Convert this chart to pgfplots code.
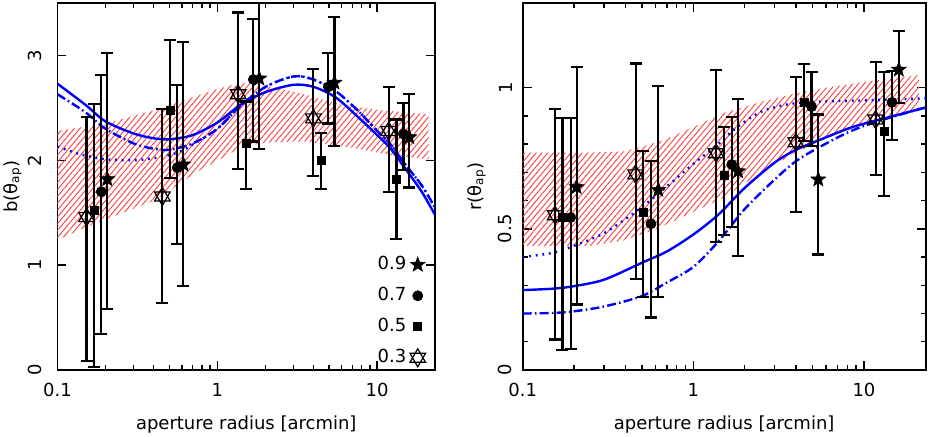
\documentclass[border=0pt]{standalone}
\usepackage{fontspec}
\setmainfont{DejaVu Sans}
\usepackage{pgfplots}
\pgfplotsset{compat=1.18}
\usetikzlibrary{patterns.meta,plotmarks}

\pgfdeclareplotmark{fstar}{%
 \pgfpathmoveto{\pgfpointpolar{90}{\pgfplotmarksize}}%
 \pgfpathlineto{\pgfpointpolar{126}{0.42\pgfplotmarksize}}%
 \pgfpathlineto{\pgfpointpolar{162}{\pgfplotmarksize}}%
 \pgfpathlineto{\pgfpointpolar{198}{0.42\pgfplotmarksize}}%
 \pgfpathlineto{\pgfpointpolar{234}{\pgfplotmarksize}}%
 \pgfpathlineto{\pgfpointpolar{270}{0.42\pgfplotmarksize}}%
 \pgfpathlineto{\pgfpointpolar{306}{\pgfplotmarksize}}%
 \pgfpathlineto{\pgfpointpolar{342}{0.42\pgfplotmarksize}}%
 \pgfpathlineto{\pgfpointpolar{18}{\pgfplotmarksize}}%
 \pgfpathlineto{\pgfpointpolar{54}{0.42\pgfplotmarksize}}%
 \pgfpathclose\pgfusepathqfillstroke}
\pgfdeclareplotmark{hexagram}{%
 \pgfpathmoveto{\pgfpointpolar{90}{\pgfplotmarksize}}%
 \pgfpathlineto{\pgfpointpolar{210}{\pgfplotmarksize}}%
 \pgfpathlineto{\pgfpointpolar{330}{\pgfplotmarksize}}%
 \pgfpathclose
 \pgfpathmoveto{\pgfpointpolar{270}{\pgfplotmarksize}}%
 \pgfpathlineto{\pgfpointpolar{30}{\pgfplotmarksize}}%
 \pgfpathlineto{\pgfpointpolar{150}{\pgfplotmarksize}}%
 \pgfpathclose
 \pgfusepathqstroke}

\definecolor{hatchred}{RGB}{255,60,60}

\pgfplotsset{
  myerrb/.style={error bars/y dir=both, error bars/y explicit,
    error bars/error bar style={line width=1.1pt, black},
    error bars/error mark options={rotate=90, line width=1.1pt, black, mark size=3pt}},
  myband/.style={draw=none, pattern={Lines[angle=50, distance=2.2pt, line width=0.45pt]}, pattern color=hatchred, forget plot},
  mysolid/.style={blue, line width=1.2pt, smooth, no marks, forget plot},
  mydashdot/.style={blue, line width=1.2pt, smooth, no marks, forget plot, dash pattern=on 4.5pt off 1.6pt on 0.8pt off 1.6pt},
  mydot/.style={blue, line width=1.2pt, smooth, no marks, forget plot, dash pattern=on 0.9pt off 2.4pt},
  myleg/.style={legend image code/.code={\path[draw=none,fill=none] (0cm,-7.75pt) rectangle (0.3cm,7.75pt); \draw[##1] plot coordinates {(0.15cm,0cm)};}},
  mystar/.style={black, only marks, mark=fstar, mark size=3.9pt, mark options={fill=black, line width=0.3pt}, myleg},
  mycirc/.style={black, only marks, mark=*, mark size=2.5pt, mark options={fill=black}, myleg},
  mysq/.style={black, only marks, mark=square*, mark size=2pt, mark options={fill=black}, myleg},
  myhex/.style={black, only marks, mark=hexagram, mark size=4.5pt, mark options={line width=0.6pt}, myleg},
}

\begin{document}
\begin{tikzpicture}[font=\fontsize{9}{11}\selectfont]
\useasboundingbox (0,0) rectangle (464pt,218pt);

% ---------------- left panel ----------------
\begin{axis}[
  scale only axis, xmode=log, xmin=0.1, xmax=23, ymin=0, ymax=3.5,
  xtick={0.1,1,10}, xticklabels={{\textnormal{0.1}},{\textnormal{1}},{\textnormal{10}}},
  axis line style={line width=0.9pt},
  tick style={black, line width=0.7pt},
  major tick length=4.5pt, minor tick length=2.5pt,
  tick align=inside,
  /pgf/number format/assume math mode=true,
  xticklabel style={yshift=-3pt},
  yticklabel style={rotate=90, anchor=south, yshift=4.5pt},
  at={(28.75pt,33pt)}, anchor=south west,
  width=188.75pt, height=183.5pt,
  ytick={0,1,2,3}, minor ytick={},
  xlabel={aperture radius [arcmin]},
  xlabel style={at={(axis description cs:0.5,-0.161)}, anchor=base},
  ylabel={b(θ\textsubscript{ap})},
  ylabel style={at={(axis description cs:-0.119,0.5)}, anchor=center},
  legend style={at={(axis description cs:0.978,0.33)}, anchor=north east, draw=none, fill=none,
    inner sep=0pt, row sep=0pt, column sep=0pt, nodes={inner xsep=1.5pt, inner ysep=0pt}},
  legend plot pos=right, legend cell align=right,
]
\addplot[myband] coordinates {
(0.1,2.28) (0.2,2.35) (0.41,2.48) (0.73,2.61) (1.0,2.68) (1.4,2.74) (2.0,2.71) (3.5,2.63) (6,2.53) (10,2.48) (21,2.44)
(21,2.01) (12,2.05) (7,2.12) (3.5,2.18) (2.0,2.17) (1.4,2.12) (0.73,1.88) (0.41,1.62) (0.155,1.37) (0.1,1.24) (0.1,2.28)};

\addplot[mysolid] coordinates {
(0.1,2.73) (0.13,2.60) (0.155,2.51) (0.2,2.37) (0.3,2.255) (0.4,2.21) (0.5,2.20) (0.7,2.24) (1.0,2.36) (1.4,2.53) (2.0,2.65) (3.0,2.72) (4.0,2.70) (5.5,2.60) (7.5,2.42) (10,2.24) (12,2.12) (15,1.92) (19,1.70) (23,1.48)};
\addplot[mydashdot] coordinates {
(0.1,2.63) (0.13,2.52) (0.155,2.44) (0.2,2.30) (0.3,2.16) (0.4,2.11) (0.5,2.10) (0.7,2.16) (1.0,2.30) (1.4,2.52) (2.0,2.70) (3.0,2.80) (4.0,2.77) (5.5,2.66) (7.5,2.48) (10,2.28) (12,2.16) (15,1.96) (19,1.76) (23,1.55)};
\addplot[mydot] coordinates {
(0.1,2.13) (0.13,2.07) (0.155,2.04) (0.2,2.01) (0.3,2.00) (0.4,2.02) (0.5,2.05) (0.6,2.09) (0.7,2.15) (1.0,2.30) (1.4,2.52) (2.0,2.70) (3.0,2.80) (4.0,2.77) (5.5,2.66) (7.5,2.48) (10,2.28) (12,2.16) (15,1.96) (19,1.76) (23,1.55)};

\addplot[mystar, myerrb] table[x=x, y=y, y error plus=ep, y error minus=em] {
x y ep em
0.205 1.82 1.20 1.24
0.613 1.96 1.17 1.16
1.83 2.78 0.90 0.67
5.40 2.74 0.63 0.60
15.9 2.22 0.41 0.48
};
\addlegendentry{0.9}
\addplot[mycirc, myerrb] table[x=x, y=y, y error plus=ep, y error minus=em] {
x y ep em
0.188 1.70 1.11 1.36
0.562 1.93 0.79 0.73
1.68 2.77 0.58 0.59
4.95 2.70 0.32 0.35
14.6 2.25 0.30 0.34
};
\addlegendentry{0.7}
\addplot[mysq, myerrb] table[x=x, y=y, y error plus=ep, y error minus=em] {
x y ep em
0.170 1.52 1.02 1.49
0.508 2.48 0.67 0.65
1.51 2.16 0.40 0.43
4.46 2.00 0.26 0.27
13.2 1.82 0.57 0.57
};
\addlegendentry{0.5}
\addplot[myhex, myerrb] table[x=x, y=y, y error plus=ep, y error minus=em] {
x y ep em
0.152 1.458 0.952 1.369
0.453 1.655 0.835 1.015
1.35 2.63 0.78 0.71
3.99 2.40 0.47 0.55
11.8 2.28 0.42 0.58
};
\addlegendentry{0.3}
\end{axis}

% ---------------- right panel ----------------
\begin{axis}[
  scale only axis, xmode=log, xmin=0.1, xmax=23, ymin=0, ymax=1.3,
  xtick={0.1,1,10}, xticklabels={{\textnormal{0.1}},{\textnormal{1}},{\textnormal{10}}},
  axis line style={line width=0.9pt},
  tick style={black, line width=0.7pt},
  major tick length=4.5pt, minor tick length=2.5pt,
  tick align=inside,
  /pgf/number format/assume math mode=true,
  xticklabel style={yshift=-3pt},
  yticklabel style={rotate=90, anchor=south, yshift=1.7pt},
  at={(261.35pt,33pt)}, anchor=south west,
  width=201.5pt, height=183.5pt,
  ytick={0,0.5,1}, minor y tick num=4,
  xlabel={aperture radius [arcmin]},
  xlabel style={at={(axis description cs:0.5,-0.161)}, anchor=base},
  ylabel={r(θ\textsubscript{ap})},
  ylabel style={at={(axis description cs:-0.1146,0.5)}, anchor=center},
]
\addplot[myband] coordinates {
(0.1,0.77) (0.25,0.77) (0.4,0.775) (0.64,0.81) (1.0,0.86) (1.5,0.91) (2.5,0.95) (4,0.98) (6,1.00) (10,1.02) (21,1.045)
(21,0.92) (10,0.87) (6,0.82) (4,0.77) (2.5,0.70) (1.5,0.61) (1.0,0.56) (0.64,0.505) (0.4,0.46) (0.25,0.44) (0.1,0.44) (0.1,0.77)};

\addplot[mysolid] coordinates {
(0.1,0.283) (0.15,0.288) (0.2,0.297) (0.3,0.32) (0.5,0.38) (0.7,0.42) (1.0,0.48) (1.4,0.55) (2.0,0.645) (3.0,0.735) (4.0,0.78) (5.5,0.815) (8.5,0.86) (13.5,0.893) (23,0.93)};
\addplot[mydashdot] coordinates {
(0.1,0.20) (0.15,0.202) (0.2,0.208) (0.3,0.225) (0.5,0.262) (0.7,0.31) (1.0,0.365) (1.4,0.455) (2.0,0.57) (3.0,0.675) (4.0,0.74) (5.5,0.79) (8.5,0.848) (13.5,0.89) (23,0.93)};
\addplot[mydot] coordinates {
(0.1,0.40) (0.15,0.415) (0.2,0.44) (0.3,0.485) (0.47,0.565) (0.7,0.65) (1.0,0.73) (1.4,0.80) (1.8,0.86) (2.5,0.915) (3.5,0.94) (5,0.95) (10,0.955) (23,0.962)};

\addplot[mystar, myerrb] table[x=x, y=y, y error plus=ep, y error minus=em] {
x y ep em
0.207 0.648 0.426 0.416
0.623 0.638 0.369 0.379
1.83 0.704 0.256 0.300
5.40 0.675 0.230 0.266
16.0 1.064 0.137 0.119
};
\addplot[mycirc, myerrb] table[x=x, y=y, y error plus=ep, y error minus=em] {
x y ep em
0.191 0.540 0.353 0.466
0.565 0.518 0.223 0.332
1.68 0.728 0.167 0.222
4.93 0.933 0.124 0.140
14.6 0.948 0.110 0.133
};
\addplot[mysq, myerrb] table[x=x, y=y, y error plus=ep, y error minus=em] {
x y ep em
0.171 0.542 0.351 0.471
0.509 0.557 0.220 0.297
1.52 0.691 0.171 0.212
4.47 0.948 0.136 0.138
13.1 0.846 0.211 0.231
};
\addplot[myhex, myerrb] table[x=x, y=y, y error plus=ep, y error minus=em] {
x y ep em
0.155 0.548 0.377 0.440
0.459 0.693 0.393 0.371
1.36 0.768 0.294 0.315
3.99 0.807 0.232 0.248
11.7 0.887 0.205 0.196
};
\end{axis}
\end{tikzpicture}
\end{document}
